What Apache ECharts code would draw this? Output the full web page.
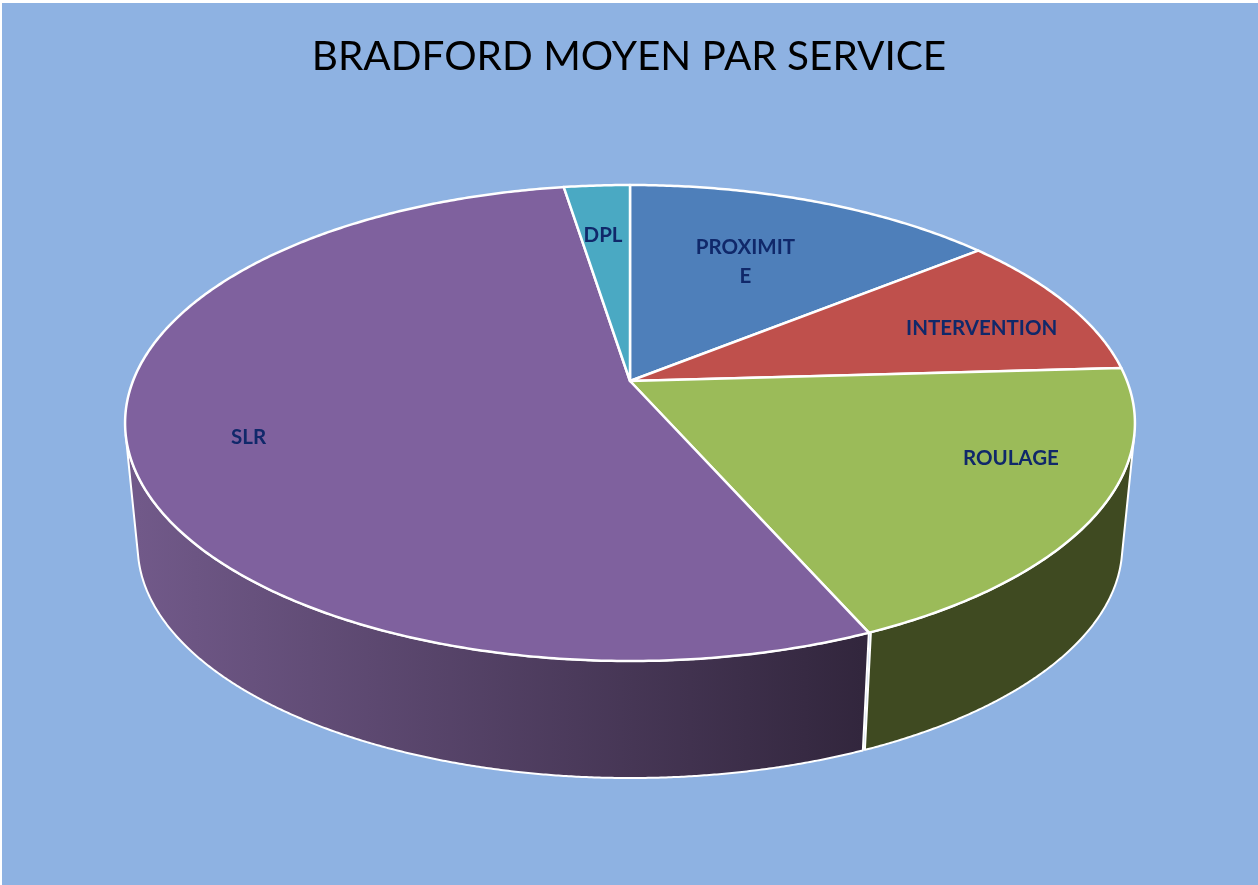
<!DOCTYPE html>
<html><head><meta charset="utf-8">
<style>html,body{margin:0;padding:0;background:#fff}#c{width:1258px;height:885px}</style>
<script src="https://cdn.jsdelivr.net/npm/echarts@6/dist/echarts.min.js"></script>
</head><body><div id="c"></div>
<script>
// data, clockwise from 12 o'clock (shares, in %)
const categories = ['PROXIMITE','INTERVENTION','ROULAGE','SLR','DPL'];
const values = [14.2, 9.9, 19.3, 54.1, 2.5];
const labels = ['PROXIMIT\nE','INTERVENTION','ROULAGE','SLR','DPL'];
const topColors = ['#4e7fba','#bf504c','#9bbb59','#7f619e','#4aa9c3'];
const wallColors = [['#2c4463','#2c4463'],['#642a28','#642a28'],['#3f4a21','#3f4a21'],['#715989','#32263d'],['#27596a','#27596a']];
const labelRadius = [0.622, 0.774, 0.79, 0.772, 0.715];
const labelShift = [-1.3, 3.3, -7.8, -1.2, -0.4];
const title = 'BRADFORD MOYEN PAR SERVICE';

// perspective view of the disc
const view = {cx:630, cy:381, A:497, B:230.6, k:0.1765, depth:124, shrink:0.975, wallX0:138, wallX1:862};
const total = values.reduce((a,b)=>a+b,0);
const starts = []; values.reduce((s,v,i)=>{starts[i]=s; return s+v;},0);
const deg = v => v/total*360;
function proj(angleDeg, r, lower){
  const t = angleDeg*Math.PI/180, u = r*Math.sin(t), v = -r*Math.cos(t), w = 1-view.k*v;
  const s = lower ? view.shrink : 1;
  return [view.cx + s*view.A*u/w, view.cy + (lower?view.depth:0) + s*view.B*v/w];
}
function facing(a){
  const p=proj(a,1,false), q=proj(a+0.1,1,false), b=proj(a,1,true);
  return (q[0]-p[0])*(b[1]-p[1])-(q[1]-p[1])*(b[0]-p[0]) < 0;
}
function topFace(params){
  const i = params.dataIndex, a0 = deg(starts[i]), a1 = a0+deg(values[i]);
  const pts = [proj(0,0,false)];
  for(let a=a0; a<a1; a+=0.5) pts.push(proj(a,1,false));
  pts.push(proj(a1,1,false));
  const mid = (a0+a1)/2+labelShift[i], lp = proj(mid,labelRadius[i],false);
  return {type:'group',children:[
    {type:'polygon',shape:{points:pts},style:{fill:topColors[i],stroke:'#fff',lineWidth:2.5,lineJoin:'round'}},
    {type:'text',z2:10,style:{text:labels[i],x:lp[0],y:lp[1],align:'center',verticalAlign:'middle',
      fill:'#10286a',font:'bold 20.5px Lato',lineHeight:29}}
  ]};
}
function wall(params){
  const i = params.dataIndex, a0 = deg(starts[i]), a1 = a0+deg(values[i]);
  const up=[], lo=[];
  for(let a=a0; a<=a1+1e-6; a+=0.25){
    const x=Math.min(a,a1);
    if(facing(x)){up.push(proj(x,1,false)); lo.push(proj(x,1,true));}
  }
  if(!up.length) return null;
  const c = wallColors[i];
  return {type:'polygon',shape:{points:up.concat(lo.reverse())},style:{
    fill:{type:'linear',x:view.wallX0,y:0,x2:view.wallX1,y2:0,global:true,
      colorStops:[{offset:0,color:c[0]},{offset:1,color:c[1]}]},
    stroke:'#fff',lineWidth:2,lineJoin:'round'}};
}
const data = categories.map((n,i)=>({name:n,value:values[i]}));
const chart = echarts.init(document.getElementById('c'));
chart.setOption({
  animation:false,
  backgroundColor:'#fff',
  graphic:[{type:'rect',z:0,shape:{x:2,y:3,width:1256,height:882},style:{fill:'#8eb2e2'}}],
  title:{text:title,left:624,top:31,textAlign:'center',textStyle:{fontFamily:'Lato',fontWeight:'normal',fontSize:40.5,color:'#000'}},
  series:[
    {type:'custom',coordinateSystem:'none',z:2,data:data,renderItem:wall,silent:true},
    {type:'custom',coordinateSystem:'none',z:3,data:data,renderItem:topFace,silent:true}
  ]
});
</script></body></html>
